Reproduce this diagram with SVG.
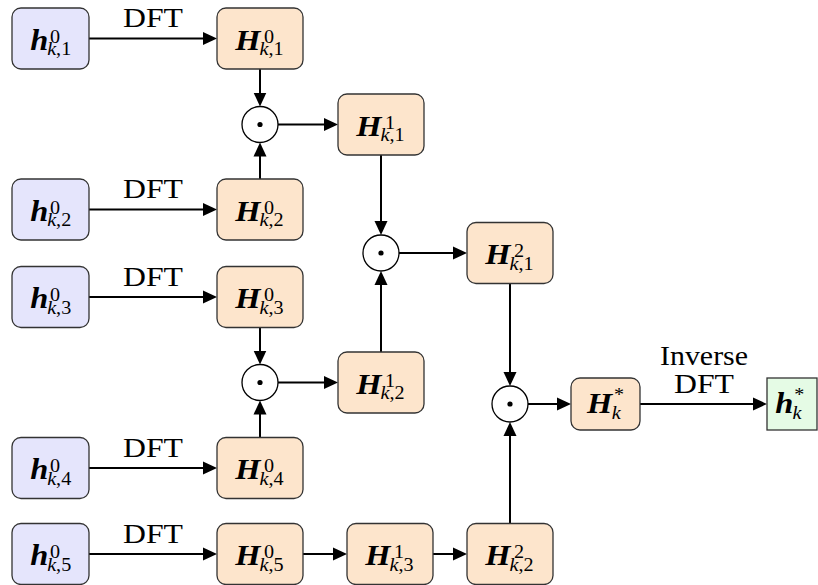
<svg xmlns="http://www.w3.org/2000/svg" width="818" height="585" viewBox="0 0 818 585">
<style>
.bx{stroke:#333;stroke-width:1.3}
.in{fill:#e5e5fc}
.fr{fill:#fde5cc}
.out{fill:#e5fbe5}
.op{fill:#fff;stroke:#000;stroke-width:1.3}
.c{stroke:#000;stroke-width:2;fill:none;marker-end:url(#ah)}
text{font-family:'Liberation Serif','DejaVu Serif',serif;fill:#000}
.lbl{font-size:28px}
.mb{font-size:29px;font-weight:bold;font-style:italic}
.s{font-size:18px}
.i{font-style:italic}
</style>
<defs>
<marker id="ah" markerUnits="userSpaceOnUse" markerWidth="15" markerHeight="14" viewBox="0 0 15 14" refX="6" refY="7" orient="auto">
<path d="M0,0.5 L14,7 L0,13.5 z" fill="#000"/>
</marker>
</defs>

<g id="connectors">
<line class="c" x1="89" y1="38.5" x2="209" y2="38.5"/>
<line class="c" x1="89" y1="209.5" x2="209" y2="209.5"/>
<line class="c" x1="89" y1="297" x2="209" y2="297"/>
<line class="c" x1="89" y1="468" x2="209" y2="468"/>
<line class="c" x1="89" y1="554" x2="209" y2="554"/>
<line class="c" x1="260" y1="69" x2="260" y2="98.5"/>
<line class="c" x1="260" y1="179" x2="260" y2="150.5"/>
<line class="c" x1="278" y1="124.5" x2="330" y2="124.5"/>
<line class="c" x1="381" y1="155" x2="381" y2="227"/>
<line class="c" x1="381" y1="352" x2="381" y2="279"/>
<line class="c" x1="399" y1="253" x2="459" y2="253"/>
<line class="c" x1="260" y1="327.5" x2="260" y2="356.5"/>
<line class="c" x1="260" y1="437.5" x2="260" y2="408.5"/>
<line class="c" x1="278" y1="382.5" x2="330" y2="382.5"/>
<line class="c" x1="510" y1="283.5" x2="510" y2="378"/>
<line class="c" x1="510" y1="523.5" x2="510" y2="430"/>
<line class="c" x1="528" y1="404" x2="563" y2="404"/>
<line class="c" x1="640" y1="404" x2="759" y2="404"/>
<line class="c" x1="303" y1="554" x2="339" y2="554"/>
<line class="c" x1="433" y1="554" x2="459" y2="554"/>
<text class="lbl" x="153" y="27" text-anchor="middle" textLength="60" lengthAdjust="spacingAndGlyphs">DFT</text>
<text class="lbl" x="153" y="198" text-anchor="middle" textLength="60" lengthAdjust="spacingAndGlyphs">DFT</text>
<text class="lbl" x="153" y="285.5" text-anchor="middle" textLength="60" lengthAdjust="spacingAndGlyphs">DFT</text>
<text class="lbl" x="153" y="456.5" text-anchor="middle" textLength="60" lengthAdjust="spacingAndGlyphs">DFT</text>
<text class="lbl" x="153" y="542.5" text-anchor="middle" textLength="60" lengthAdjust="spacingAndGlyphs">DFT</text>
<text class="lbl" x="704" y="365" text-anchor="middle" textLength="88" lengthAdjust="spacingAndGlyphs">Inverse</text>
<text class="lbl" x="704" y="393" text-anchor="middle" textLength="60" lengthAdjust="spacingAndGlyphs">DFT</text>
</g>

<g id="h01"><rect class="bx in" x="12" y="8" width="77" height="61" rx="9"/>
<text transform="translate(50.5,38.5) scale(1.12,1)"><tspan class="mb" x="-18" y="11">h</tspan><tspan class="s" x="-0.5" y="4">0</tspan><tspan class="s" x="-3" y="17"><tspan class="i">k</tspan>,1</tspan></text></g>
<g id="h02"><rect class="bx in" x="12" y="179" width="77" height="61" rx="9"/>
<text transform="translate(50.5,209.5) scale(1.12,1)"><tspan class="mb" x="-18" y="11">h</tspan><tspan class="s" x="-0.5" y="4">0</tspan><tspan class="s" x="-3" y="17"><tspan class="i">k</tspan>,2</tspan></text></g>
<g id="h03"><rect class="bx in" x="12" y="266.5" width="77" height="61" rx="9"/>
<text transform="translate(50.5,297) scale(1.12,1)"><tspan class="mb" x="-18" y="11">h</tspan><tspan class="s" x="-0.5" y="4">0</tspan><tspan class="s" x="-3" y="17"><tspan class="i">k</tspan>,3</tspan></text></g>
<g id="h04"><rect class="bx in" x="12" y="437.5" width="77" height="61" rx="9"/>
<text transform="translate(50.5,468) scale(1.12,1)"><tspan class="mb" x="-18" y="11">h</tspan><tspan class="s" x="-0.5" y="4">0</tspan><tspan class="s" x="-3" y="17"><tspan class="i">k</tspan>,4</tspan></text></g>
<g id="h05"><rect class="bx in" x="12" y="523.5" width="77" height="61" rx="9"/>
<text transform="translate(50.5,554) scale(1.12,1)"><tspan class="mb" x="-18" y="11">h</tspan><tspan class="s" x="-0.5" y="4">0</tspan><tspan class="s" x="-3" y="17"><tspan class="i">k</tspan>,5</tspan></text></g>

<g id="H01"><rect class="bx fr" x="217" y="8" width="86" height="61" rx="9"/>
<text transform="translate(260,38.5) scale(1.12,1)"><tspan class="mb" x="-22" y="11">H</tspan><tspan class="s" x="3.5" y="4">0</tspan><tspan class="s" x="-0.5" y="17"><tspan class="i">k</tspan>,1</tspan></text></g>
<g id="H02"><rect class="bx fr" x="217" y="179" width="86" height="61" rx="9"/>
<text transform="translate(260,209.5) scale(1.12,1)"><tspan class="mb" x="-22" y="11">H</tspan><tspan class="s" x="3.5" y="4">0</tspan><tspan class="s" x="-0.5" y="17"><tspan class="i">k</tspan>,2</tspan></text></g>
<g id="H03"><rect class="bx fr" x="217" y="266.5" width="86" height="61" rx="9"/>
<text transform="translate(260,297) scale(1.12,1)"><tspan class="mb" x="-22" y="11">H</tspan><tspan class="s" x="3.5" y="4">0</tspan><tspan class="s" x="-0.5" y="17"><tspan class="i">k</tspan>,3</tspan></text></g>
<g id="H04"><rect class="bx fr" x="217" y="437.5" width="86" height="61" rx="9"/>
<text transform="translate(260,468) scale(1.12,1)"><tspan class="mb" x="-22" y="11">H</tspan><tspan class="s" x="3.5" y="4">0</tspan><tspan class="s" x="-0.5" y="17"><tspan class="i">k</tspan>,4</tspan></text></g>
<g id="H05"><rect class="bx fr" x="217" y="523.5" width="86" height="61" rx="9"/>
<text transform="translate(260,554) scale(1.12,1)"><tspan class="mb" x="-22" y="11">H</tspan><tspan class="s" x="3.5" y="4">0</tspan><tspan class="s" x="-0.5" y="17"><tspan class="i">k</tspan>,5</tspan></text></g>

<g id="H11"><rect class="bx fr" x="338" y="94" width="86" height="61" rx="9"/>
<text transform="translate(381,124.5) scale(1.12,1)"><tspan class="mb" x="-22" y="11">H</tspan><tspan class="s" x="3.5" y="4">1</tspan><tspan class="s" x="-0.5" y="17"><tspan class="i">k</tspan>,1</tspan></text></g>
<g id="H12"><rect class="bx fr" x="338" y="352" width="86" height="61" rx="9"/>
<text transform="translate(381,382.5) scale(1.12,1)"><tspan class="mb" x="-22" y="11">H</tspan><tspan class="s" x="3.5" y="4">1</tspan><tspan class="s" x="-0.5" y="17"><tspan class="i">k</tspan>,2</tspan></text></g>
<g id="H13"><rect class="bx fr" x="347" y="523.5" width="86" height="61" rx="9"/>
<text transform="translate(390,554) scale(1.12,1)"><tspan class="mb" x="-22" y="11">H</tspan><tspan class="s" x="3.5" y="4">1</tspan><tspan class="s" x="-0.5" y="17"><tspan class="i">k</tspan>,3</tspan></text></g>
<g id="H21"><rect class="bx fr" x="467" y="222.5" width="86" height="61" rx="9"/>
<text transform="translate(510,253) scale(1.12,1)"><tspan class="mb" x="-22" y="11">H</tspan><tspan class="s" x="3.5" y="4">2</tspan><tspan class="s" x="-0.5" y="17"><tspan class="i">k</tspan>,1</tspan></text></g>
<g id="H22"><rect class="bx fr" x="467" y="523.5" width="86" height="61" rx="9"/>
<text transform="translate(510,554) scale(1.12,1)"><tspan class="mb" x="-22" y="11">H</tspan><tspan class="s" x="3.5" y="4">2</tspan><tspan class="s" x="-0.5" y="17"><tspan class="i">k</tspan>,2</tspan></text></g>

<g id="Hstar"><rect class="bx fr" x="571" y="378" width="69" height="52" rx="9"/>
<text transform="translate(605.5,404) scale(1.12,1)"><tspan class="mb" x="-16.5" y="9">H</tspan><tspan class="s" x="7.5" y="-3" font-size="20">*</tspan><tspan class="s i" x="5.5" y="15">k</tspan></text></g>
<g id="hstar"><rect class="bx out" x="767" y="378" width="50" height="52"/>
<text transform="translate(792,404) scale(1.12,1)"><tspan class="mb" x="-15" y="9">h</tspan><tspan class="s" x="2" y="-3" font-size="20">*</tspan><tspan class="s i" x="0.5" y="15">k</tspan></text></g>

<g id="op1"><circle class="op" cx="260" cy="124.5" r="18"/><circle cx="260" cy="124.5" r="2.6"/></g>
<g id="op2"><circle class="op" cx="381" cy="253" r="18"/><circle cx="381" cy="253" r="2.6"/></g>
<g id="op3"><circle class="op" cx="260" cy="382.5" r="18"/><circle cx="260" cy="382.5" r="2.6"/></g>
<g id="op4"><circle class="op" cx="510" cy="404" r="18"/><circle cx="510" cy="404" r="2.6"/></g>
</svg>
